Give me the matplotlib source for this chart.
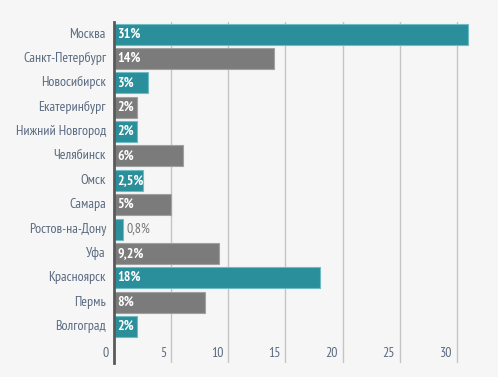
import matplotlib
matplotlib.use("Agg")
import matplotlib.pyplot as plt
import matplotlib.transforms as mtransforms

cities = ["Москва", "Санкт-Петербург", "Новосибирск", "Екатеринбург", "Нижний Новгород",
          "Челябинск", "Омск", "Самара", "Ростов-на-Дону", "Уфа", "Красноярск", "Пермь", "Волгоград"]
values = [31, 14, 3, 2, 2, 6, 2.5, 5, 0.8, 9.2, 18, 8, 2]
labels = ["31%", "14%", "3%", "2%", "2%", "6%", "2,5%", "5%", "0,8%", "9,2%", "18%", "8%", "2%"]
xticks = [0, 5, 10, 15, 20, 25, 30]

plt.rcParams["font.family"] = ["PT Sans Narrow", "DejaVu Sans"]

teal, teal_edge = "#2a8f9a", "#6fbcc4"
grey, grey_edge = "#7b7b7b", "#a0a0a0"
bg = "#f6f6f6"

fig = plt.figure(figsize=(4.98, 3.77), dpi=100, facecolor=bg)
ax = fig.add_axes([114 / 498, 14 / 377, 384 / 498, 341 / 377], facecolor=bg)

n = len(cities)
ypos = list(range(n))
colors = [teal if i % 2 == 0 else grey for i in range(n)]
edges = [teal_edge if i % 2 == 0 else grey_edge for i in range(n)]
ax.barh(ypos, values, height=0.86, color=colors, edgecolor=edges, linewidth=0.8, zorder=3)

ax.set_xlim(0, 33.6)
ax.set_ylim(n + 0.5, -0.5)
for x in xticks[1:]:
    ax.axvline(x, color="#c4c4c4", lw=1, zorder=1)

for spine in ["top", "right", "bottom"]:
    ax.spines[spine].set_visible(False)
ax.spines["left"].set_color("#5a5a5a")
ax.spines["left"].set_linewidth(2)
ax.spines["left"].set_zorder(5)
ax.set_xticks([])
ax.set_yticks([])

lab_off = mtransforms.offset_copy(ax.transData, fig=fig, x=-8, y=0, units="dots")
val_off = mtransforms.offset_copy(ax.transData, fig=fig, x=3, y=0, units="dots")
tick_off = mtransforms.offset_copy(ax.transData, fig=fig, x=-5, y=0, units="dots")

for i, (c, v, l) in enumerate(zip(cities, values, labels)):
    ax.text(0, i, c, transform=lab_off, ha="right", va="center", fontsize=10,
            color="#5a6a80", clip_on=False)
    if v < 1.5:
        ax.text(v, i, l, transform=val_off, ha="left", va="center", fontsize=10,
                color="#777777")
    else:
        ax.text(0, i, l, transform=val_off, ha="left", va="center", fontsize=10,
                color="white", fontweight="bold", zorder=6)

for x in xticks:
    ax.text(x, n + 0.1, str(x), transform=tick_off, ha="right", va="center",
            fontsize=10, color="#5a6a80", clip_on=False)

fig.savefig("out.png", dpi=100, facecolor=bg)
